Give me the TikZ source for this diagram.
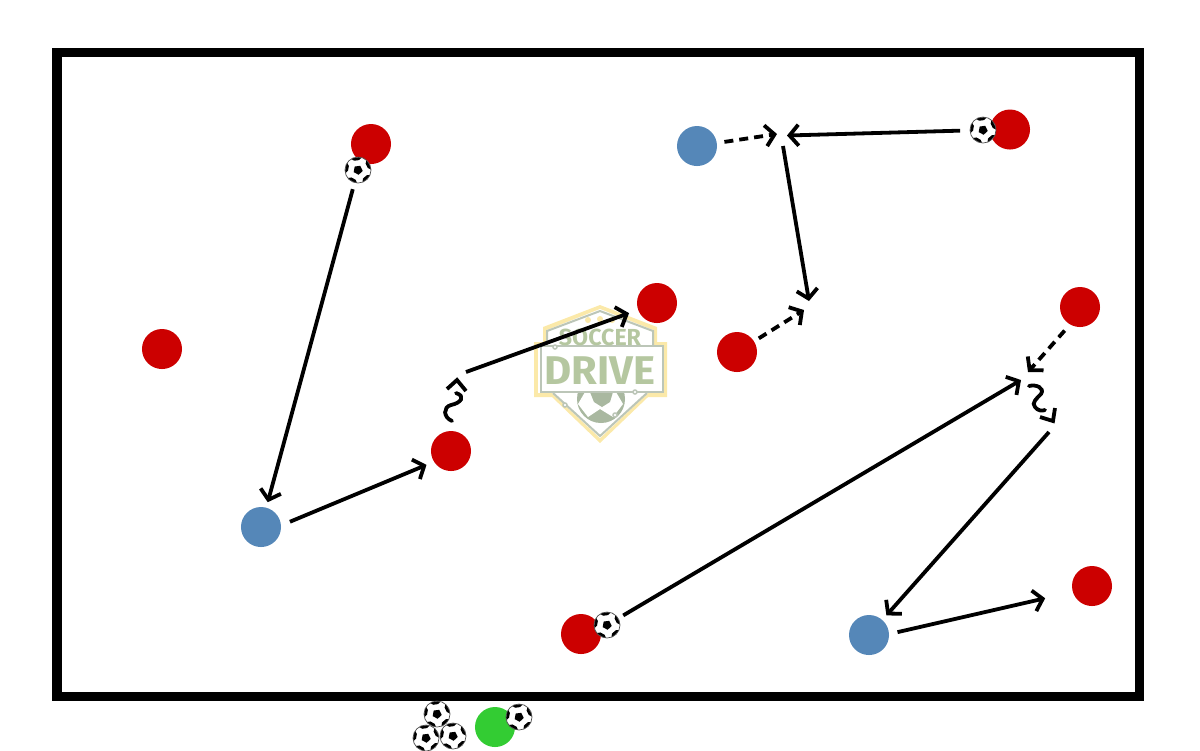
\documentclass[tikz,border=0pt]{standalone}
\usepackage{fontspec}
\newfontfamily\logofont{Fira Sans}
\usetikzlibrary{arrows.meta}
\definecolor{redplayer}{HTML}{CC0000}
\definecolor{blueplayer}{HTML}{5587B8}
\definecolor{greenplayer}{HTML}{33CC33}
\definecolor{logogreen}{HTML}{B5C7A0}
\definecolor{logogrey}{HTML}{BCC6B8}
\definecolor{logosage}{HTML}{A9B8A0}
\definecolor{logoyellow}{HTML}{FBE9A9}
\tikzset{
  player/.style={circle,minimum size=0.4cm,inner sep=0pt},
  red/.style={player,fill=redplayer},
  blue/.style={player,fill=blueplayer},
  green/.style={player,fill=greenplayer},
  ball/.style={circle,draw=black!70,line width=0.2pt,fill=white,minimum size=0.26cm,inner sep=0pt,
    path picture={
      \begin{scope}[shift={(path picture bounding box.center)}]
        \fill[black] (10:4.8)--(82:4.8)--(154:4.8)--(226:4.8)--(298:4.8)--cycle;
        \foreach \a in {46,118,190,262,334}
          \fill[black] ({\a-14}:10)--({\a-26}:14)--({\a+26}:14)--({\a+14}:10)--cycle;
      \end{scope}
    }},
  pass/.style={line width=0.038cm,-{Straight Barb[length=0.09cm,width=0.21cm]}},
  run/.style={pass,dash pattern=on 0.09cm off 0.06cm},
  dribble/.style={line width=0.038cm,line cap=round},
  tiphead/.style={line width=0.038cm,miter limit=4},
}
\begin{document}
\begin{tikzpicture}[x=0.01cm,y=-0.01cm]
    \useasboundingbox (0,0) rectangle (1200,750);
    % logo
    \fill[logoyellow] (600,305)--(657,327)--(657,342)--(667,342)--(667,397)--(648,397)--(600,443)--(552,397)--(534,397)--(534,342)--(543,342)--(543,327)--cycle;
    \fill[white] (600,309)--(653,330)--(653,345)--(663,345)--(663,393)--(649,392)--(600,438)--(551,392)--(538,393)--(538,345)--(547,345)--(547,330)--cycle;
    \draw[logogrey,line width=0.02cm] (547,346)--(547,331)--(600,311)--(653,331)--(653,346);
    \draw[logogrey,line width=0.02cm] (553,393)--(600,436)--(647,393);
    \fill[logosage] (601,399) circle (24);
    \fill[white] (585,392)--(578,404)--(588,417)--(600,409)--(613,417)--(623,404)--(616,392)--cycle;
    \fill[logosage] (590,392)--(613,392)--(610,402)--(602,407)--(594,402)--cycle;
    \draw[logogrey,line width=0.02cm,fill=white] (541,346) rectangle (663,392);
    \draw[logogrey,line width=0.015cm,fill=white] (555,347) circle (2);
    \draw[logogrey,line width=0.015cm,fill=white] (635,392) circle (2);
    \draw[logogrey,line width=0.015cm,fill=white] (565,405) circle (2);
    \draw[logogrey,line width=0.015cm,fill=white] (615,415) circle (2);
    \fill[logoyellow] (588,320) circle (3) (600,319) circle (3) (612,320) circle (3);
    \node[logogreen,font=\logofont\bfseries\fontsize{6.6}{7}\selectfont,inner sep=0pt] (soccer) at (600,337) {SOCCER};
    \node[logogreen,font=\logofont\bfseries\fontsize{11.4}{12}\selectfont,xscale=1.04,inner sep=0pt] (drive) at (600,371) {DRIVE};
    % field
    \draw[line width=0.095cm] (57,52.5) rectangle (1139.5,696.5);
    % players
    \node[red] (redA) at (371,144) {};
    \node[red] (redB) at (162,349) {};
    \node[red] (redC) at (451,451) {};
    \node[red] (redD) at (657,303) {};
    \node[red] (redE) at (737,352) {};
    \node[red] (redF) at (1010,129.5) {};
    \node[red] (redG) at (1080,307) {};
    \node[red] (redH) at (1092,586) {};
    \node[red] (redI) at (581,634) {};
    \node[blue] (blueA) at (261,527) {};
    \node[blue] (blueB) at (697,146) {};
    \node[blue] (blueC) at (869,635) {};
    \node[green] (coach) at (495,727) {};
    % balls
    \node[ball] (ballA) at (358,170) {};
    \node[ball] (ballB) at (983,130) {};
    \node[ball] (ballC) at (607,625) {};
    \node[ball] (ballD) at (519,717) {};
    \node[ball] (ballE) at (437,714) {};
    \node[ball] (ballF) at (426,738) {};
    \node[ball] (ballG) at (453,736) {};
    % free ends
    \coordinate (startC) at (466,372);
    \coordinate (endB) at (777,134);
    \coordinate (endF) at (787,135.5);
    \coordinate (startM) at (783,146);
    \coordinate (endM) at (809,301);
    \coordinate (endE) at (804,310);
    \coordinate (endG) at (1028,372);
    \coordinate (endI) at (1021,380);
    \coordinate (startN) at (1049,432);
    % passes and runs
    \draw[pass,shorten <=0.065cm,shorten >=0.05cm] (ballA) -- (blueA);
    \draw[pass,shorten <=0.09cm,shorten >=0.075cm] (blueA.5) -- (redC.212);
    \draw[pass,shorten >=0.09cm] (startC) -- (redD);
    \draw[run,shorten <=0.07cm] (blueB) -- (endB);
    \draw[pass,shorten <=0.095cm] (ballB) -- (endF);
    \draw[pass] (startM) -- (endM);
    \draw[run,shorten <=0.05cm] (redE) -- (endE);
    \draw[run,shorten <=0.075cm] (redG.240) -- (endG);
    \draw[pass,shorten <=0.055cm] (ballC) -- (endI);
    \draw[pass,shorten >=0.055cm] (startN) -- (blueC);
    \draw[pass,shorten <=0.08cm,shorten >=0.277cm] (blueC.3) -- (redH.197);
    % dribbles
    \draw[dribble] (452,421) .. controls (443,417) and (443,407) .. (451,405) .. controls (461,403) and (466,396) .. (456,393);
    \draw[tiphead] (447,389)--(457,380)--(466,391);
    \draw[dribble] (1029,386) .. controls (1036,384) and (1045,388) .. (1041,394) .. controls (1037,398) and (1031,403) .. (1035,407) .. controls (1038,411) and (1042,411) .. (1045,410);
    \draw[tiphead] (1055,408)--(1053,421)--(1040,417);
\end{tikzpicture}
\end{document}
